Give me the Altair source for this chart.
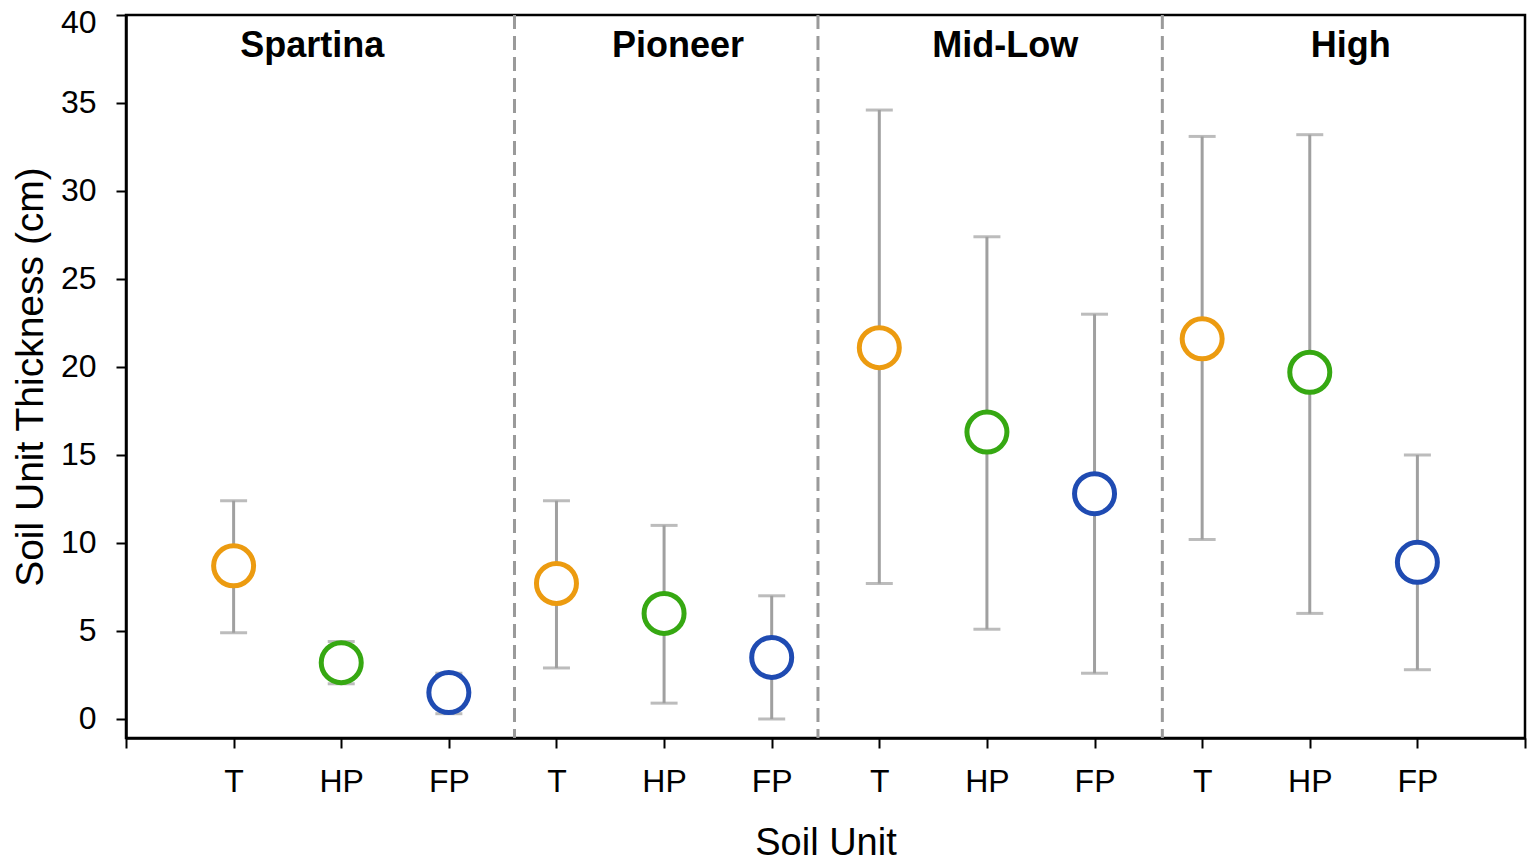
import altair as alt
import pandas as pd

# ---- data ----
groups = ["Spartina", "Pioneer", "Mid-Low", "High"]
units = ["T", "HP", "FP"]
means = [8.7, 3.2, 1.5, 7.7, 6.0, 3.5, 21.1, 16.3, 12.8, 21.6, 19.7, 8.9]
upper = [12.4, 4.4, 2.6, 12.4, 11.0, 7.0, 34.6, 27.4, 23.0, 33.1, 33.2, 15.0]
lower = [4.9, 2.0, 0.3, 2.9, 0.9, 0.0, 7.7, 5.1, 2.6, 10.2, 6.0, 2.8]
dividers = [3.61, 6.43, 9.63]
label_x = [1.73, 5.13, 8.17, 11.38]
tick_labels = [""] + units * 4 + [""]

rows = []
for i in range(12):
    rows.append({
        "pos": i + 1,
        "group": groups[i // 3],
        "unit": units[i % 3],
        "mean": means[i],
        "hi": upper[i],
        "lo": lower[i],
    })
df = pd.DataFrame(rows)
div_df = pd.DataFrame({"x": dividers})
lab_df = pd.DataFrame({"x": label_x, "label": groups})

FONT = "Arial, Liberation Sans, sans-serif"
unit_colors = ["#EC9B10", "#36A812", "#1F4BB2"]
GRAY = "#A0A0A0"

label_expr = "[" + ",".join("'%s'" % t for t in tick_labels) + "][datum.value]"

xscale = alt.Scale(domain=[0, 13], nice=False, zero=False)
yscale = alt.Scale(domain=[-1.08, 40], nice=False, zero=False)

x_axis = alt.Axis(
    title="Soil Unit",
    values=list(range(0, 14)),
    labelExpr=label_expr,
    grid=False,
    tickSize=10,
    tickWidth=2,
    tickColor="black",
    domainColor="black",
    domainWidth=2.5,
    labelFont=FONT,
    labelFontSize=32,
    labelColor="black",
    labelPadding=18,
    titleFont=FONT,
    titleFontSize=38,
    titleFontWeight="normal",
    titleColor="black",
    titleY=124,
    titleBaseline="bottom",
)
y_axis = alt.Axis(
    title="Soil Unit Thickness (cm)",
    values=list(range(0, 41, 5)),
    grid=False,
    tickSize=10,
    tickWidth=2,
    tickColor="black",
    domainColor="black",
    domainWidth=2.5,
    labelFont=FONT,
    labelFontSize=32,
    labelColor="black",
    labelPadding=20,
    labelOffset={"condition": {"test": "datum.value == 40", "value": 7}, "value": 0},
    titleFont=FONT,
    titleFontSize=39,
    titleFontWeight="normal",
    titleColor="black",
    titleX=-96,
    titleBaseline="middle",
    titleAngle=-90,
)

base = alt.Chart(df)

bars = base.mark_rule(color=GRAY, strokeWidth=3).encode(
    x=alt.X("pos:Q", scale=xscale, axis=x_axis),
    y=alt.Y("lo:Q", scale=yscale, axis=y_axis),
    y2="hi:Q",
)
cap_hi = base.mark_tick(color=GRAY, orient="horizontal", size=27, thickness=3).encode(
    x=alt.X("pos:Q", scale=xscale), y=alt.Y("hi:Q", scale=yscale)
)
cap_lo = base.mark_tick(color=GRAY, orient="horizontal", size=27, thickness=3).encode(
    x=alt.X("pos:Q", scale=xscale), y=alt.Y("lo:Q", scale=yscale)
)
points = base.mark_point(
    shape="circle", size=1600, strokeWidth=5, fill="white", fillOpacity=1, opacity=1
).encode(
    x=alt.X("pos:Q", scale=xscale),
    y=alt.Y("mean:Q", scale=yscale),
    stroke=alt.Stroke("unit:N", scale=alt.Scale(domain=units, range=unit_colors), legend=None),
)
divs = alt.Chart(div_df).mark_rule(color="#9A9A9A", strokeWidth=3, strokeDash=[14, 7]).encode(
    x=alt.X("x:Q", scale=xscale)
)
labels = alt.Chart(lab_df).mark_text(
    font=FONT, fontSize=36, fontWeight="bold", color="black", baseline="middle", align="center"
).encode(
    x=alt.X("x:Q", scale=xscale),
    y=alt.value(31),
    text="label:N",
)

chart = (
    alt.layer(divs, bars, cap_hi, cap_lo, points, labels)
    .properties(
        width=1399,
        height=723,
        autosize=alt.AutoSizeParams(type="none"),
        padding={"left": 118, "top": 7, "right": 2, "bottom": 130},
        background="white",
    )
    .configure_view(stroke="black", strokeWidth=2.5)
)

chart.save("out.html", embed_options={"renderer": "svg", "actions": False})
